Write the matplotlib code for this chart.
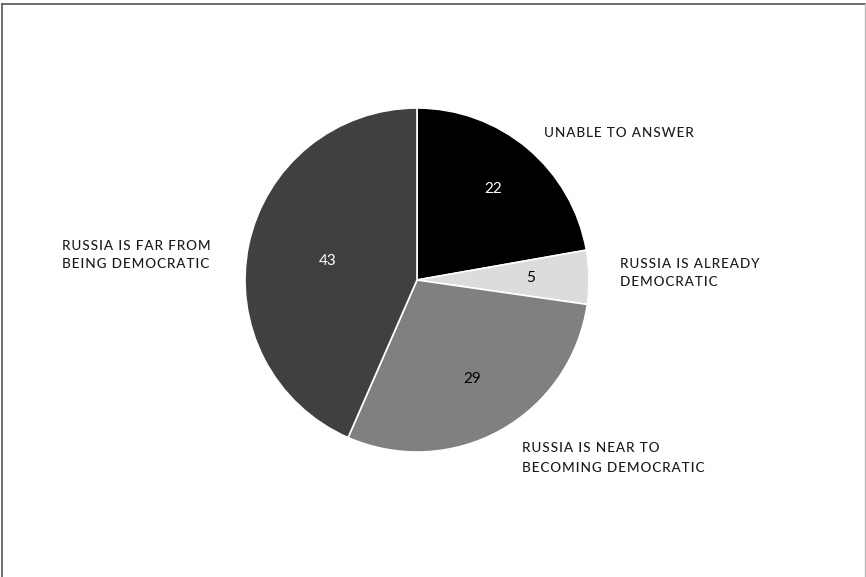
import numpy as np
import matplotlib
matplotlib.use('Agg')
import matplotlib.pyplot as plt
from matplotlib.lines import Line2D

# survey answers, clockwise from 12 o'clock
answers = ['UNABLE TO ANSWER', 'RUSSIA IS ALREADY\nDEMOCRATIC',
           'RUSSIA IS NEAR TO\nBECOMING DEMOCRATIC', 'RUSSIA IS FAR FROM\nBEING DEMOCRATIC']
shares = [22, 5, 29, 43]
wedge_colors = ['#000000', '#dcdcdc', '#808080', '#404040']
number_colors = ['white', 'black', 'black', 'white']
number_dist = [0.69, 0.66, 0.66, 0.53]

plt.rcParams['font.family'] = ['Lato', 'DejaVu Sans']

def spaced(s):
    # poor man's letter spacing
    return '\n'.join('\u200a'.join(line) for line in s.split('\n'))

fig = plt.figure(figsize=(8.66, 5.77), dpi=100)
ax = fig.add_axes([(417 - 172) / 866, 1 - (280 + 172) / 577, 344 / 866, 344 / 577])

wedges, _ = ax.pie(shares, colors=wedge_colors, startangle=90, counterclock=False,
                   radius=1, wedgeprops=dict(edgecolor='white', linewidth=1.2))
ax.set_xlim(-1, 1)
ax.set_ylim(-1, 1)
ax.set_aspect('equal')

for w, v, c, d in zip(wedges, shares, number_colors, number_dist):
    mid = np.deg2rad((w.theta1 + w.theta2) / 2)
    ax.text(d * np.cos(mid), d * np.sin(mid), str(v), color=c, fontsize=11,
            ha='center', va='center')

# category labels around the pie (figure pixel positions)
label_pos = [(544, 133), (620, 273), (522, 458), (62, 255)]
for txt, (px, py) in zip(answers, label_pos):
    fig.text(px / 866, 1 - py / 577, spaced(txt), fontsize=9.7, color='#1a1a1a',
             ha='left', va='center', linespacing=1.7, fontweight='medium')

# frame around the chart
frame_kw = dict(transform=fig.transFigure, color='#555555', linewidth=1.2)
fig.add_artist(Line2D([2 / 866, 2 / 866], [0, 1 - 4 / 577], **frame_kw))
fig.add_artist(Line2D([2 / 866, 865 / 866], [1 - 4 / 577, 1 - 4 / 577], **frame_kw))
fig.add_artist(Line2D([865 / 866, 865 / 866], [0, 1 - 4 / 577], transform=fig.transFigure,
                      color='#bbbbbb', linewidth=1.0))

fig.savefig('out.png', dpi=100, facecolor='white')
